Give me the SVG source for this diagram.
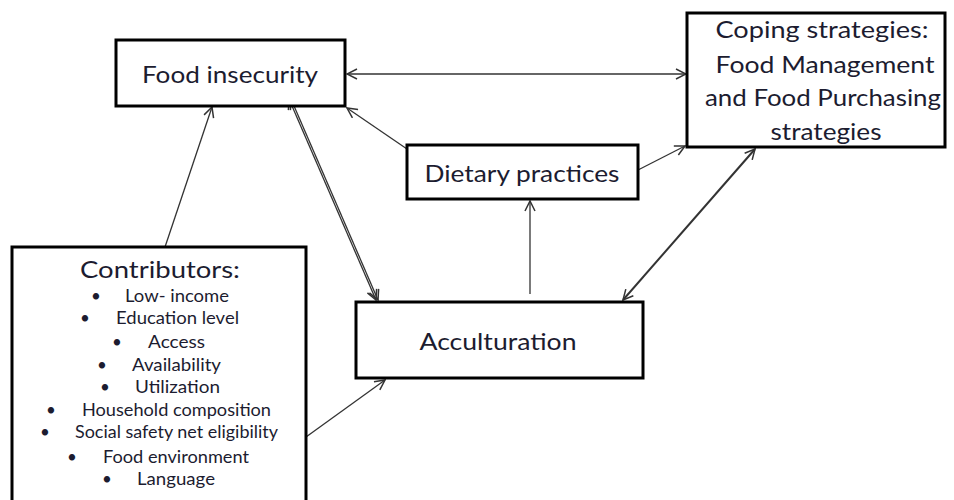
<svg xmlns="http://www.w3.org/2000/svg" width="954" height="500" viewBox="0 0 954 500">
<defs>
<marker id="ah" viewBox="0 0 12 12" refX="11" refY="6" markerWidth="12" markerHeight="12" markerUnits="userSpaceOnUse" orient="auto-start-reverse">
<path d="M1,1 L11,6 L1,11" fill="none" stroke="#333" stroke-width="1.5"/>
</marker>
<style>
.box{fill:#fff;stroke:#000;stroke-width:3}
.t{font-family:Lato,"Open Sans","Liberation Sans",sans-serif;fill:#1c1c30;text-anchor:middle;font-size:24px}
.b{font-family:Lato,"Open Sans","Liberation Sans",sans-serif;fill:#1c1c30;font-size:17px}
.c{stroke:#333;stroke-width:1.3;fill:none;marker-end:url(#ah)}
.d{stroke:#333;stroke-width:1.3;fill:none;marker-end:url(#ah);marker-start:url(#ah)}
</style>
</defs>
<rect width="954" height="500" fill="#fff"/>
<g id="connectors">
<line class="d" x1="347" y1="74" x2="686" y2="74"/>
<line class="c" x1="407" y1="149" x2="347" y2="108"/>
<line class="c" x1="638" y1="170" x2="685" y2="146"/>
<line class="c" x1="165" y1="247" x2="212" y2="107"/>
<line class="c" x1="530" y1="294" x2="530" y2="201"/>
<line class="d" x1="289" y1="99" x2="376" y2="300"/>
<line class="d" x1="291" y1="99" x2="378" y2="300"/>
<line class="d" x1="755" y1="149" x2="623" y2="300" style="stroke-width:2"/>
<line class="c" x1="306" y1="437" x2="385" y2="380"/>
</g>
<g id="food-insecurity">
<rect class="box" x="116" y="40" width="229" height="66"/>
<text class="t" x="230" y="83" textLength="176" lengthAdjust="spacingAndGlyphs">Food insecurity</text>
</g>
<g id="coping">
<rect class="box" x="687" y="13" width="258" height="134"/>
<text class="t" x="822" y="38" textLength="213" lengthAdjust="spacingAndGlyphs">Coping strategies:</text>
<text class="t" x="825" y="73" textLength="219" lengthAdjust="spacingAndGlyphs">Food Management</text>
<text class="t" x="823" y="106" textLength="236" lengthAdjust="spacingAndGlyphs">and Food Purchasing</text>
<text class="t" x="826" y="140" textLength="111" lengthAdjust="spacingAndGlyphs">strategies</text>
</g>
<g id="dietary">
<rect class="box" x="407" y="145" width="231" height="54"/>
<text class="t" x="522" y="182" textLength="195" lengthAdjust="spacingAndGlyphs">Dietary practices</text>
</g>
<g id="acculturation">
<rect class="box" x="356" y="302" width="287" height="76"/>
<text class="t" x="498" y="350" textLength="157" lengthAdjust="spacingAndGlyphs">Acculturation</text>
</g>
<g id="contributors">
<rect class="box" x="12" y="247" width="294" height="260"/>
<text class="t" x="160" y="278" textLength="160" lengthAdjust="spacingAndGlyphs">Contributors:</text>
<text class="b" x="91" y="302">•</text><text class="b" x="125" y="302" textLength="104" lengthAdjust="spacingAndGlyphs">Low- income</text>
<text class="b" x="80" y="324">•</text><text class="b" x="116" y="324" textLength="123" lengthAdjust="spacingAndGlyphs">Education level</text>
<text class="b" x="112" y="348">•</text><text class="b" x="148" y="348" textLength="57" lengthAdjust="spacingAndGlyphs">Access</text>
<text class="b" x="97" y="371">•</text><text class="b" x="132" y="371" textLength="89" lengthAdjust="spacingAndGlyphs">Availability</text>
<text class="b" x="100" y="393">•</text><text class="b" x="135" y="393" textLength="85" lengthAdjust="spacingAndGlyphs">Utilization</text>
<text class="b" x="46" y="416">•</text><text class="b" x="82" y="416" textLength="189" lengthAdjust="spacingAndGlyphs">Household composition</text>
<text class="b" x="40" y="438">•</text><text class="b" x="75" y="438" textLength="203" lengthAdjust="spacingAndGlyphs">Social safety net eligibility</text>
<text class="b" x="67" y="463">•</text><text class="b" x="103" y="463" textLength="146" lengthAdjust="spacingAndGlyphs">Food environment</text>
<text class="b" x="102" y="485">•</text><text class="b" x="137" y="485" textLength="78" lengthAdjust="spacingAndGlyphs">Language</text>
</g>
</svg>
